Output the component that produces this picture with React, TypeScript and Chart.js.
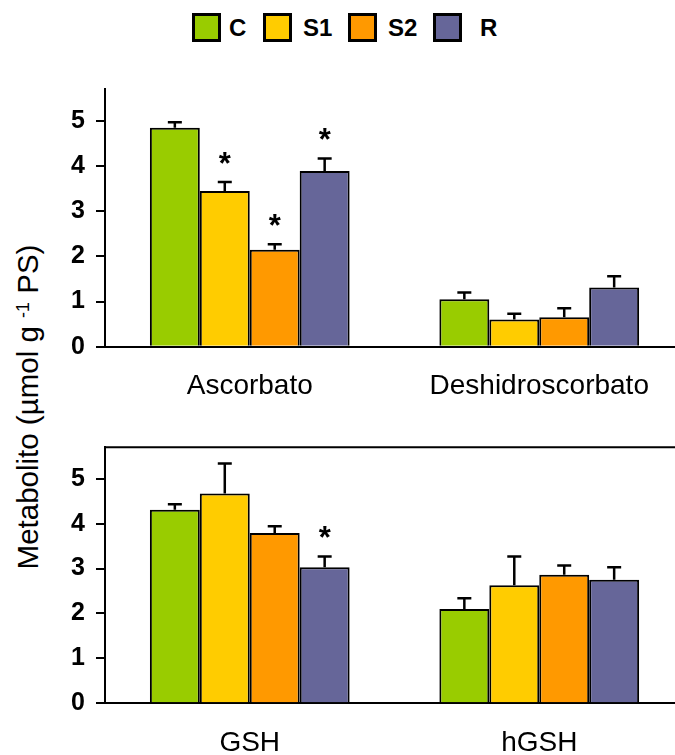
import React, { useEffect, useRef } from 'react';
import { Chart, registerables } from 'chart.js';

Chart.register(...registerables);

// ---------- DATA ----------
const seriesNames = ['C', 'S1', 'S2', 'R'];
const seriesColors = ['#99CC00', '#FFCC00', '#FF9900', '#666699'];

const yTickValues = [0, 1, 2, 3, 4, 5];
const yMin = 0;
const yMax = 5.7;

// Top panel
const topCategories = ['Ascorbato', 'Deshidroscorbato'];
const topC = [4.85, 1.05];
const topS1 = [3.45, 0.6];
const topS2 = [2.15, 0.65];
const topR = [3.89, 1.31];
const topCErr = [0.12, 0.15];
const topS1Err = [0.2, 0.13];
const topS2Err = [0.12, 0.2];
const topRErr = [0.28, 0.25];
const topCStar = [false, false];
const topS1Star = [true, false];
const topS2Star = [true, false];
const topRStar = [true, false];

// Bottom panel
const bottomCategories = ['GSH', 'hGSH'];
const bottomC = [4.31, 2.1];
const bottomS1 = [4.67, 2.63];
const bottomS2 = [3.79, 2.86];
const bottomR = [3.03, 2.75];
const bottomCErr = [0.12, 0.24];
const bottomS1Err = [0.67, 0.64];
const bottomS2Err = [0.15, 0.21];
const bottomRErr = [0.24, 0.28];
const bottomCStar = [false, false];
const bottomS1Star = [false, false];
const bottomS2Star = [false, false];
const bottomRStar = [true, false];

const FONT = '"Liberation Sans", Arial, Helvetica, sans-serif';

const errorBarPlugin = {
  id: 'errorBars',
  afterDatasetsDraw(chart: any) {
    const ctx = chart.ctx;
    const yScale = chart.scales.y;
    chart.data.datasets.forEach((ds: any, i: number) => {
      const meta = chart.getDatasetMeta(i);
      meta.data.forEach((bar: any, j: number) => {
        const v = ds.data[j];
        const e = ds.errors ? ds.errors[j] : 0;
        const yBar = yScale.getPixelForValue(v);
        const yTop = yScale.getPixelForValue(v + e);
        ctx.save();
        ctx.strokeStyle = '#000';
        ctx.lineWidth = 2.5;
        ctx.beginPath();
        ctx.moveTo(bar.x, yBar);
        ctx.lineTo(bar.x, yTop);
        ctx.moveTo(bar.x - 7, yTop);
        ctx.lineTo(bar.x + 7, yTop);
        ctx.stroke();
        if (ds.stars && ds.stars[j]) {
          const size = 31;
          ctx.fillStyle = '#000';
          ctx.font = `bold ${size}px ${FONT}`;
          ctx.textAlign = 'center';
          ctx.textBaseline = 'alphabetic';
          ctx.fillText('*', bar.x, yTop - 26 + 0.58 * size);
        }
        ctx.restore();
      });
    });
  },
};

const topFramePlugin = {
  id: 'topFrame',
  afterDraw(chart: any) {
    if (!chart.options.plugins.topFrame || !chart.options.plugins.topFrame.show) return;
    const { ctx, chartArea } = chart;
    ctx.save();
    ctx.strokeStyle = '#000';
    ctx.lineWidth = 2;
    ctx.beginPath();
    ctx.moveTo(chartArea.left, chartArea.top);
    ctx.lineTo(chartArea.right, chartArea.top);
    ctx.stroke();
    ctx.restore();
  },
};

function makeChart(
  canvas: HTMLCanvasElement,
  categories: string[],
  values: number[][],
  errs: number[][],
  stars: boolean[][],
  padTop: number,
  axisHeight: number,
  showTop: boolean
) {
  return new Chart(canvas, {
    type: 'bar',
    data: {
      labels: categories,
      datasets: values.map((vals, i) => ({
        label: seriesNames[i],
        data: vals,
        errors: errs[i],
        stars: stars[i],
        backgroundColor: seriesColors[i],
        borderColor: '#000',
        borderWidth: 2,
        borderSkipped: 'start',
        categoryPercentage: 0.69,
        barPercentage: 1.0,
      })) as any,
    },
    options: {
      responsive: false,
      animation: false,
      devicePixelRatio: 1,
      layout: { padding: { top: padTop, left: 0, right: 0, bottom: 0 } },
      plugins: {
        legend: { display: false },
        tooltip: { enabled: false },
        topFrame: { show: showTop },
      } as any,
      scales: {
        x: {
          type: 'category',
          offset: true,
          grid: { display: false, drawTicks: false },
          border: { display: true, color: '#000', width: 2 },
          ticks: {
            color: '#000',
            font: { family: FONT, size: 28 },
            padding: 23,
            maxRotation: 0,
            autoSkip: false,
          },
          afterFit: (scale: any) => {
            scale.height = axisHeight;
          },
        },
        y: {
          type: 'linear',
          min: yMin,
          max: yMax,
          afterBuildTicks: (scale: any) => {
            scale.ticks = yTickValues.map((v) => ({ value: v }));
          },
          grid: {
            display: true,
            drawOnChartArea: false,
            drawTicks: true,
            tickLength: 9,
            color: '#000',
            lineWidth: 2,
          },
          border: { display: true, color: '#000', width: 2 },
          ticks: {
            color: '#000',
            font: { family: FONT, size: 25, weight: 'bold' },
            padding: 11,
          },
          afterFit: (scale: any) => {
            scale.width = 105;
          },
        },
      },
    },
    plugins: [errorBarPlugin, topFramePlugin],
  } as any);
}

export default function App() {
  const topRef = useRef<HTMLCanvasElement>(null);
  const bottomRef = useRef<HTMLCanvasElement>(null);

  useEffect(() => {
    const c1 = makeChart(
      topRef.current!,
      topCategories,
      [topC, topS1, topS2, topR],
      [topCErr, topS1Err, topS2Err, topRErr],
      [topCStar, topS1Star, topS2Star, topRStar],
      29.4,
      73.3,
      false
    );
    const c2 = makeChart(
      bottomRef.current!,
      bottomCategories,
      [bottomC, bottomS1, bottomS2, bottomR],
      [bottomCErr, bottomS1Err, bottomS2Err, bottomRErr],
      [bottomCStar, bottomS1Star, bottomS2Star, bottomRStar],
      27.3,
      51.7,
      true
    );
    return () => {
      c1.destroy();
      c2.destroy();
    };
  }, []);

  const legendLefts = [192, 263, 348, 433];
  const legendGaps = [8, 11, 11, 18];

  return (
    <div
      style={{
        position: 'absolute',
        left: 0,
        top: 0,
        width: 675,
        height: 755,
        overflow: 'hidden',
        background: '#fff',
        fontFamily: FONT,
      }}
    >
      {seriesNames.map((name, i) => (
        <div
          key={name}
          style={{
            position: 'absolute',
            left: legendLefts[i],
            top: 13,
            height: 29,
            display: 'flex',
            alignItems: 'center',
            whiteSpace: 'nowrap',
          }}
        >
          <div
            style={{
              width: 29,
              height: 29,
              boxSizing: 'border-box',
              border: '3px solid #000',
              background: seriesColors[i],
            }}
          />
          <span
            style={{
              marginLeft: legendGaps[i],
              fontSize: 24,
              fontWeight: 'bold',
              color: '#000',
            }}
          >
            {name}
          </span>
        </div>
      ))}

      <div
        style={{
          position: 'absolute',
          left: 28,
          top: 407,
          transform: 'translate(-50%, -50%) rotate(-90deg)',
          whiteSpace: 'nowrap',
          fontSize: 29.5,
          color: '#000',
          lineHeight: 1,
        }}
      >
        Metabolito (µmol g <span style={{ fontSize: 18, verticalAlign: '0.5em' }}>-1</span> PS)
      </div>

      <canvas
        ref={topRef}
        width={684}
        height={360}
        style={{ position: 'absolute', left: 0, top: 60, width: 684, height: 360 }}
      />
      <canvas
        ref={bottomRef}
        width={684}
        height={335}
        style={{ position: 'absolute', left: 0, top: 420, width: 684, height: 335 }}
      />
    </div>
  );
}
